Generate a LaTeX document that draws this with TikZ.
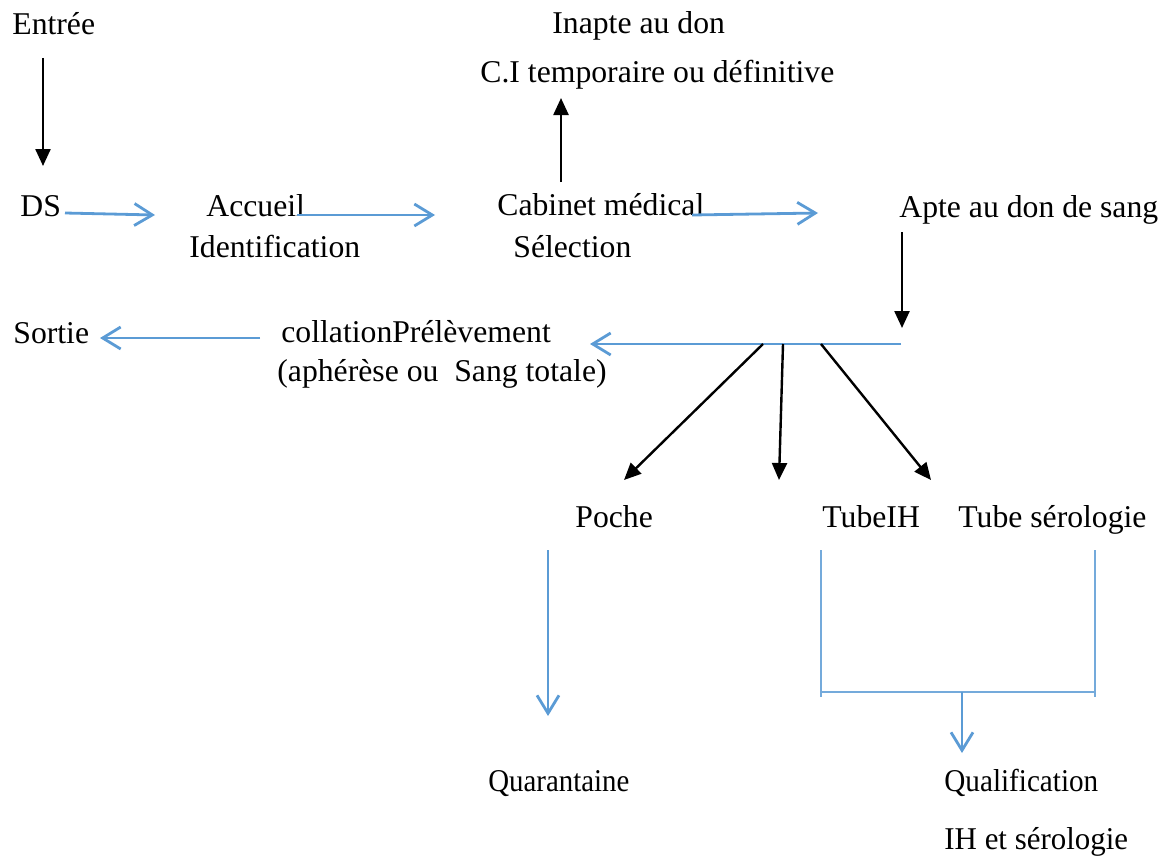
\documentclass[tikz,border=0pt]{standalone}
\usepackage{fontspec}
\setmainfont{Liberation Serif}
\usetikzlibrary{arrows.meta}
\definecolor{flowblue}{HTML}{5B9BD5}
\newcommand{\bigtxt}{\fontsize{15.85}{19}\selectfont}
\tikzset{
  txt/.style={anchor=base west, inner sep=0pt, font=\bigtxt},
  bluearrow/.style={draw=flowblue, line width=1.4pt, -{Straight Barb[length=9pt,width=11pt,line width=1.4pt]}},
  blackarrow/.style={draw=black, line width=1.2pt, -{Triangle[length=8.5pt,width=7.5pt]}},
  bracketline/.style={draw=flowblue!85, line width=0.9pt},
}
\begin{document}
\begin{tikzpicture}[x=0.5pt, y=-0.5pt]
\useasboundingbox (0,0) rectangle (1160,856);
% texts
\node[txt] (entree) at (12,35) {Entrée};
\node[txt] (ds) at (20,216) {DS};
\node[txt] (accueil) at (206,216) {Accueil};
\node[txt] (ident) at (189,257) {Identification};
\node[txt] (cab) at (497,215) {Cabinet médical};
\node[txt] (sel) at (513,257) {Sélection};
\node[txt] (inapte) at (552,34) {Inapte au don};
\node[txt] (ci) at (480,83) {C.I temporaire ou définitive};
\node[txt] (apte) at (899,217) {Apte au don de sang};
\node[txt] (sortie) at (13,343) {Sortie};
\node[txt] (prel) at (281,342) {collationPrélèvement};
\node[txt] (aph) at (277,381) {(aphérèse ou\ \ Sang totale)};
\node[txt] (poche) at (575,527) {Poche};
\node[txt] (tubeih) at (822,527) {TubeIH};
\node[txt] (tubeser) at (958,527) {Tube sérologie};
\node[txt] (quar) at (488,791) {\scalebox{0.91}[1]{Quarantaine}};
\node[txt] (qual) at (944,791) {\scalebox{0.92}[1]{Qualification}};
\node[txt] (ihser) at (944,849) {\scalebox{0.975}[1]{IH et sérologie}};
% connector end points
\coordinate (e1) at (43,58);   \coordinate (e2) at (43,166);
\coordinate (d1) at (65,213);  \coordinate (d2) at (155,215);
\coordinate (a1) at (297,215); \coordinate (a2) at (435,215);
\coordinate (c1) at (561,182); \coordinate (c2) at (561,98);
\coordinate (m1) at (692,215); \coordinate (m2) at (818,213);
\coordinate (p1) at (902,232); \coordinate (p2) at (902,328);
\coordinate (h1) at (901,344); \coordinate (h2) at (590,344);
\coordinate (s1) at (260,338); \coordinate (s2) at (100,338);
\coordinate (b1) at (763,344); \coordinate (b1e) at (624,480);
\coordinate (b2) at (783,344); \coordinate (b2e) at (779,480);
\coordinate (b3) at (821,344); \coordinate (b3e) at (931,480);
\coordinate (q1) at (548,550); \coordinate (q2) at (548,716);
\coordinate (l1) at (821,550); \coordinate (l2) at (821,697);
\coordinate (r1) at (1095,550); \coordinate (r2) at (1095,697);
\coordinate (hl) at (821,692); \coordinate (hr) at (1095,692);
\coordinate (k1) at (962,692); \coordinate (k2) at (962,753);
% connectors
\draw[blackarrow] (e1) -- (e2);
\draw[bluearrow] (d1) -- (d2);
\draw[bluearrow] (a1) -- (a2);
\draw[blackarrow] (c1) -- (c2);
\draw[bluearrow] (m1) -- (m2);
\draw[blackarrow] (p1) -- (p2);
\draw[bluearrow] (h1) -- (h2);
\draw[bluearrow] (s1) -- (s2);
\draw[blackarrow] (b1) -- (b1e);
\draw[blackarrow] (b2) -- (b2e);
\draw[blackarrow] (b3) -- (b3e);
\draw[bluearrow] (q1) -- (q2);
\draw[bracketline] (l1) -- (l2);
\draw[bracketline] (r1) -- (r2);
\draw[bracketline] (hl) -- (hr);
\draw[bluearrow] (k1) -- (k2);
\end{tikzpicture}
\end{document}
